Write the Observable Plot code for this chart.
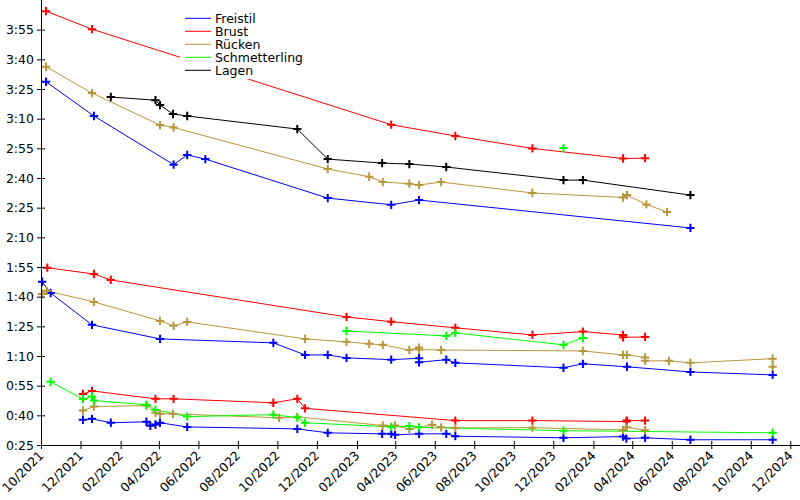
<!DOCTYPE html>
<html><head><meta charset="utf-8">
<script src="https://cdn.jsdelivr.net/npm/d3@7"></script>
<script src="https://cdn.jsdelivr.net/npm/@observablehq/plot@0.6"></script>
<style>body{margin:0;background:#fff} #chart svg{display:block}</style>
</head><body><div id="chart"></div>
<script>
const styles = ["Freistil", "Brust", "Rücken", "Schmetterling", "Lagen"];
const colors = ["#0000ff", "#ff0000", "#b8963c", "#00ff00", "#000000"];
const yTicks = [25, 40, 55, 70, 85, 100, 115, 130, 145, 160, 175, 190, 205, 220, 235];
const xTicks = ["2021-10-01","2021-12-01","2022-02-01","2022-04-01","2022-06-01","2022-08-01","2022-10-01","2022-12-01","2023-02-01","2023-04-01","2023-06-01","2023-08-01","2023-10-01","2023-12-01","2024-02-01","2024-04-01","2024-06-01","2024-08-01","2024-10-01","2024-12-01"];
const xDomain = ["2021-10-01", "2024-12-16"];

// 200 m
const freistil200 = [["2021-10-08",208.9],["2021-12-21",191.6],["2022-04-23",167.0],["2022-05-14",171.9],["2022-06-11",169.8],["2022-12-17",150.1],["2023-03-25",146.7],["2023-05-07",149.1],["2024-06-29",135.0]];
const brust200 = [["2021-10-08",244.6],["2021-12-18",235.5],["2023-03-25",187.2],["2023-07-02",181.5],["2023-10-29",175.2],["2024-03-17",170.1],["2024-04-20",170.3]];
const ruecken200 = [["2021-10-08",216.5],["2021-12-18",203.2],["2022-04-02",187.0],["2022-04-23",185.8],["2022-12-17",164.8],["2023-02-19",160.9],["2023-03-12",158.2],["2023-04-22",157.4],["2023-05-07",156.7],["2023-06-10",158.2],["2023-10-29",152.7],["2024-03-17",150.4],["2024-03-23",151.6],["2024-04-22",146.9],["2024-05-24",143.0]];
const schmetterling200 = [["2023-12-16",175.4]];
const lagen200 = [["2022-01-16",201.2],["2022-03-26",199.6],["2022-04-02",197.1],["2022-04-22",192.6],["2022-05-14",191.6],["2022-10-31",185.0],["2022-12-17",169.8],["2023-03-11",167.8],["2023-04-22",167.3],["2023-06-18",165.8],["2023-12-16",159.2],["2024-01-15",159.2],["2024-06-29",151.6]];
// 100 m
const freistil100 = [["2021-10-02",107.8],["2021-10-15",102.1],["2021-12-18",86.0],["2022-04-02",78.9],["2022-09-24",76.9],["2022-11-12",70.8],["2022-12-17",70.8],["2023-01-15",69.3],["2023-03-25",68.4],["2023-05-07",69.1],["2023-05-07",67.1],["2023-06-18",68.4],["2023-07-02",66.8],["2023-12-16",64.3],["2024-01-15",66.3],["2024-03-23",64.8],["2024-06-29",62.2],["2024-11-03",60.7]];
const brust100 = [["2021-10-10",114.9],["2021-12-21",111.7],["2022-01-16",108.7],["2023-01-15",90.0],["2023-03-25",87.6],["2023-07-02",84.5],["2023-10-29",80.9],["2024-01-15",82.6],["2024-03-17",80.9],["2024-03-17",79.7],["2024-04-20",79.9]];
const ruecken100 = [["2021-10-02",101.6],["2021-10-09",103.2],["2021-12-21",97.6],["2022-04-02",88.0],["2022-04-23",85.5],["2022-05-14",87.5],["2022-11-12",78.9],["2023-01-15",77.4],["2023-02-19",76.4],["2023-03-12",75.9],["2023-04-22",73.3],["2023-05-07",74.5],["2023-05-07",73.5],["2023-06-10",73.3],["2024-01-15",72.8],["2024-03-17",70.8],["2024-03-23",70.8],["2024-04-20",69.5],["2024-04-20",67.8],["2024-05-27",67.8],["2024-06-29",66.8],["2024-11-03",68.9],["2024-11-03",64.8]];
const schmetterling100 = [["2023-01-15",82.9],["2023-06-18",80.4],["2023-07-02",81.9],["2023-12-16",75.9],["2024-01-15",79.4]];
// 50 m
const freistil50 = [["2021-12-04",38.0],["2021-12-18",38.5],["2022-01-16",36.5],["2022-03-12",37.0],["2022-03-18",35.0],["2022-03-26",35.6],["2022-04-02",36.5],["2022-05-14",34.4],["2022-10-31",33.4],["2022-12-17",31.4],["2023-03-11",30.9],["2023-03-25",30.9],["2023-03-31",30.4],["2023-05-07",30.9],["2023-06-18",30.9],["2023-07-02",29.7],["2023-12-16",28.9],["2024-03-17",29.5],["2024-03-22",28.5],["2024-04-20",28.9],["2024-06-29",27.9],["2024-11-03",27.9]];
const brust50 = [["2021-12-04",51.1],["2021-12-18",52.6],["2022-03-26",48.6],["2022-04-23",48.6],["2022-09-24",46.6],["2022-10-31",48.6],["2022-11-12",43.8],["2023-07-02",37.6],["2023-10-29",37.6],["2024-03-22",37.1],["2024-03-23",37.6],["2024-04-20",37.6]];
const ruecken50 = [["2021-12-04",42.7],["2021-12-21",44.7],["2022-03-12",45.2],["2022-03-26",41.5],["2022-04-02",41.0],["2022-04-22",41.0],["2022-10-03",39.0],["2022-10-31",39.5],["2023-03-12",35.1],["2023-03-31",35.1],["2023-04-22",33.3],["2023-05-27",35.5],["2023-06-10",34.2],["2023-07-02",33.9],["2023-10-29",34.0],["2024-03-17",32.9],["2024-03-23",34.2],["2024-04-20",32.7]];
const schmetterling50 = [["2021-10-15",57.2],["2021-12-04",48.5],["2021-12-18",49.8],["2021-12-21",47.7],["2022-03-12",45.6],["2022-03-26",43.1],["2022-05-14",39.6],["2022-09-24",40.6],["2022-10-31",39.1],["2022-11-12",36.5],["2023-03-25",34.4],["2023-04-22",34.8],["2023-05-07",34.2],["2023-12-16",32.5],["2024-11-03",31.4]];

const series = [
  ["Freistil", "200", freistil200], ["Brust", "200", brust200], ["Rücken", "200", ruecken200],
  ["Schmetterling", "200", schmetterling200], ["Lagen", "200", lagen200],
  ["Freistil", "100", freistil100], ["Brust", "100", brust100], ["Rücken", "100", ruecken100],
  ["Schmetterling", "100", schmetterling100],
  ["Freistil", "50", freistil50], ["Brust", "50", brust50], ["Rücken", "50", ruecken50],
  ["Schmetterling", "50", schmetterling50]
];
const rows = series.flatMap(([stil, strecke, data]) =>
  data.map(([d, s]) => ({stil, key: stil + strecke, date: new Date(d), sec: s})));

const fmt = s => `${Math.floor(s / 60)}:${String(s % 60).padStart(2, "0")}`;
const xt = xTicks.map(d => new Date(d));

const chart = Plot.plot({
  width: 800, height: 500,
  marginLeft: 41, marginRight: 0, marginTop: 0, marginBottom: 55,
  style: {fontFamily: "DejaVu Sans", fontSize: "12.5px", background: "#fff", color: "#000", overflow: "visible"},
  x: {type: "utc", domain: xDomain.map(d => new Date(d)), label: null},
  y: {domain: [25, 250], label: null},
  color: {domain: styles, range: colors},
  marks: [
    Plot.line(rows, {x: "date", y: "sec", z: "key", stroke: "stil", strokeWidth: 1}),
    Plot.dot(rows, {x: "date", y: "sec", stroke: "stil", symbol: "plus", r: 2.8, strokeWidth: 2}),
    Plot.ruleX([new Date(xDomain[0])], {stroke: "#000", strokeWidth: 1}),
    Plot.ruleY([25], {stroke: "#000", strokeWidth: 1}),
    Plot.axisY(yTicks, {tickFormat: fmt, tickSize: 4, tickPadding: 3.5, stroke: "#000", fill: "#000"}),
    Plot.axisY(yTicks, {tickFormat: () => "", tickSize: 4, dx: 4, stroke: "#000"}),
    Plot.axisX(xt, {tickFormat: d3.utcFormat("%m/%Y"), tickRotate: -45, tickSize: 4, tickPadding: 4, stroke: "#000", fill: "#000"}),
    Plot.axisX(xt, {tickFormat: () => "", tickSize: 4, dy: -4, stroke: "#000"})
  ]
});

const svg = d3.select(chart);
const g = svg.append("g").attr("class", "legend");
g.append("rect").attr("x", 180).attr("y", 9).attr("width", 130).attr("height", 70).attr("fill", "#fff");
styles.forEach((s, i) => {
  const y = 18.3 + i * 13;
  g.append("line").attr("x1", 185).attr("x2", 211).attr("y1", y).attr("y2", y).attr("stroke", colors[i]).attr("stroke-width", 1);
  g.append("text").attr("x", 215).attr("y", y).attr("dy", "0.35em").attr("text-anchor", "start").attr("fill", "#000").text(s);
});
document.getElementById("chart").append(chart);
</script>
</body></html>
